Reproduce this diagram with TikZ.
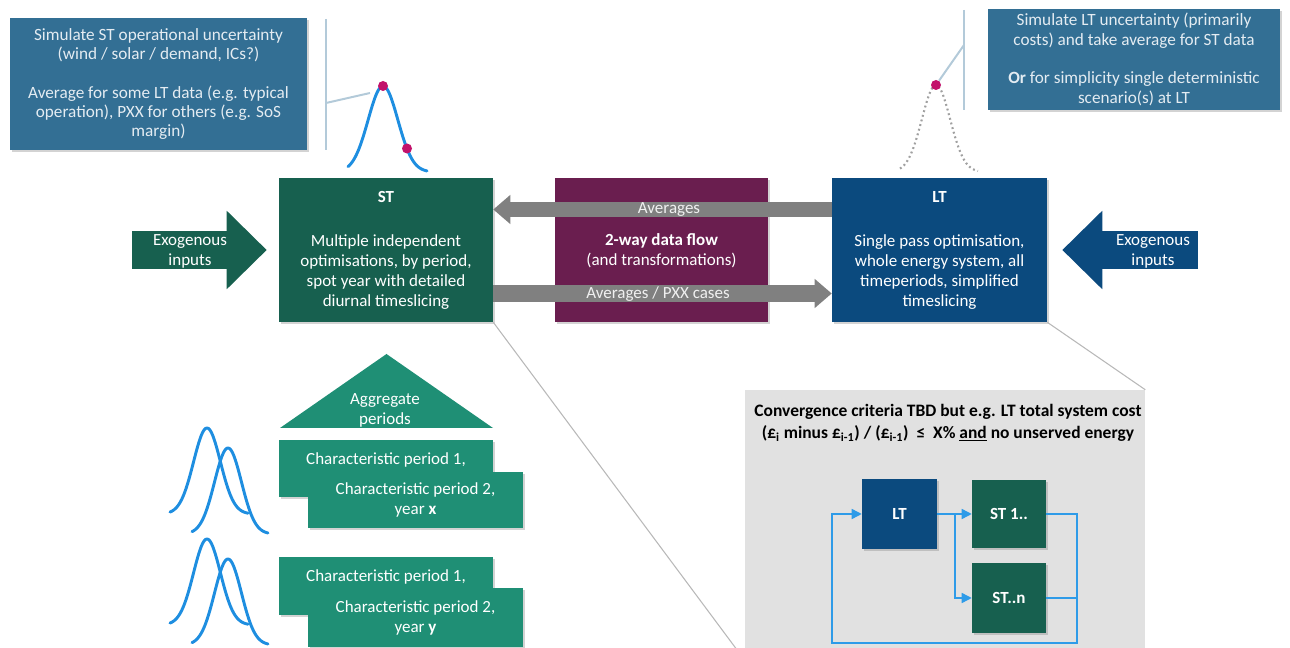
\documentclass[tikz,border=0pt]{standalone}
\usepackage{fontspec}
\setmainfont{Carlito}
\usetikzlibrary{arrows.meta,shadows}
\definecolor{stgreen}{HTML}{17604F}
\definecolor{tealbox}{HTML}{1F8F75}
\definecolor{ltblue}{HTML}{0B4A7E}
\definecolor{purp}{HTML}{6A1E4F}
\definecolor{callout}{HTML}{336F94}
\definecolor{calltext}{HTML}{E4ECF2}
\definecolor{vlinec}{HTML}{B3CAD9}
\definecolor{arrgrey}{HTML}{808080}
\definecolor{panelgrey}{HTML}{E1E1E1}
\definecolor{bellc}{HTML}{1E8EE0}
\definecolor{dotmag}{HTML}{C2126B}
\definecolor{loopblue}{HTML}{2E9BE8}
\definecolor{zoomc}{HTML}{B8B8B8}
\definecolor{dotgrey}{HTML}{A0A0A0}
\newcommand\msz{\fontsize{12.75}{15}\selectfont}
\newcommand\csz{\fontsize{12.9}{14.5}\selectfont}
\begin{document}
\begin{tikzpicture}[x=0.75pt,y=-0.75pt,
  sz/.style 2 args={minimum width={#1*0.75pt},minimum height={#2*0.75pt}},
  blk/.style={rectangle,inner sep=0pt,align=center,text=white,font=\msz,
    drop shadow={opacity=0.35,shadow xshift=1.8pt,shadow yshift=-1.8pt}},
  callbox/.style={blk,fill=callout,text=calltext,font=\csz},
  txt/.style={inner sep=0pt,align=center,font=\msz,text=white},
  exo/.style={line width=29pt,-{Triangle[length=30pt,width=57pt]}},
  garrow/.style={draw=arrgrey,-{Triangle[length=12.75pt,width=21pt]}},
  bellst/.style={draw=bellc,line width=2.2pt,line cap=round},
  vln/.style={draw=vlinec,line width=1.8pt},
  mdot/.style={circle,fill=dotmag,inner sep=0pt,minimum size=7.5pt},
  lp/.style={draw=loopblue,line width=1.1pt},
  lparrow/.style={lp,-{Triangle[length=7.5pt,width=7.5pt]}},
  zoomline/.style={draw=zoomc,line width=0.8pt}]
\useasboundingbox (0,0) rectangle (1290,648);

% ---------- main boxes ----------
\node[blk,fill=purp,sz={213}{144}] (mid) at (661.5,250) {};
\node[txt] (midtxt) at (661.5,251) {\textbf{2-way data flow}\\(and transformations)};

\node[blk,fill=stgreen,sz={214}{144}] (ST) at (386,250)
  {\textbf{ST}\\[18pt]Multiple independent\\optimisations, by period,\\spot year with detailed\\diurnal timeslicing};
\node[blk,fill=ltblue,sz={215}{144}] (LT) at (939.5,250)
  {\textbf{LT}\\[18pt]Single pass optimisation,\\whole energy system, all\\timeperiods, simplified\\timeslicing};

% ---------- grey data-flow arrows ----------
\coordinate (avgT) at (0,209.5);
\coordinate (avgB) at (0,293.5);
\draw[garrow,line width=11.25pt] (LT.west |- avgT) -- (ST.east |- avgT);
\draw[garrow,line width=12.75pt] (ST.east |- avgB) -- (LT.west |- avgB);
\node[txt,text=white!94!black] (lavg) at (669,210) {Averages};
\node[txt,text=white!94!black] (lpxx) at (658,294) {Averages / PXX cases};

% ---------- exogenous inputs ----------
\coordinate (exoL) at (132,250);
\coordinate (exoR) at (1198,250);
\draw[exo,stgreen] (exoL) -- ([xshift=-9pt]ST.west);
\draw[exo,ltblue] (exoR) -- ([xshift=11.25pt]LT.east);
\node[txt] (exoLt) at (190,251) {Exogenous\\inputs};
\node[txt] (exoRt) at (1153,251) {Exogenous\\inputs};

% ---------- zoom lines and panel ----------
\node[rectangle,fill=panelgrey,inner sep=0pt,sz={400}{270}] (pnl) at (945,525) {};
\draw[zoomline] (ST.south east) -- (pnl.south west);
\draw[zoomline] (LT.south east) -- (pnl.north east);
\node[inner sep=0pt,align=center,font=\fontsize{13.1}{16.5}\selectfont\bfseries] (crit) at (948,423)
  {Convergence criteria TBD but e.g. LT total system cost\\
   (£\textsubscript{i} minus £\textsubscript{i-1}) / (£\textsubscript{i-1})\ \ ≤\ \ X\% \underline{and} no unserved energy};

\node[blk,fill=ltblue,font=\msz\bfseries,sz={75}{70}] (iLT) at (899.5,514) {LT};
\node[blk,fill=stgreen,font=\msz\bfseries,sz={74}{68}] (iST1) at (1009,514) {ST 1..};
\node[blk,fill=stgreen,font=\msz\bfseries,sz={74}{70}] (iSTn) at (1009,598) {ST..n};
\coordinate (br) at (955,514);
\coordinate (rr) at (1077,643);
\coordinate (ll) at (832,643);
\draw[lparrow] (iLT.east) -- (iST1.west);
\draw[lparrow] (br) |- (iSTn.west);
\draw[lparrow] (iST1.east) -| (rr) -- (ll) |- (iLT.west);
\draw[lp] (iSTn.east) -- (iSTn.east -| rr);

% ---------- callouts ----------
\node[callbox,sz={297}{132}] (cTL) at (158.5,84)
  {Simulate ST operational uncertainty\\(wind / solar / demand, ICs?)\\[14.5pt]Average for some LT data (e.g. typical\\operation), PXX for others (e.g. SoS\\margin)};
\node[callbox,sz={292}{101}] (cTR) at (1134,59.5)
  {Simulate LT uncertainty (primarily\\costs) and take average for ST data\\[14.5pt]\textbf{Or} for simplicity single deterministic\\scenario(s) at LT};

\coordinate (vL1) at (326,19);
\coordinate (vL2) at (326,150);
\coordinate (vLm) at (326,103);
\coordinate (cL) at (370,93);
\draw[vln] (vL1) -- (vL2);
\draw[vlinec,line width=1.5pt] (vLm) -- (cL);
\coordinate (vR1) at (964,10);
\coordinate (vR2) at (964,110);
\coordinate (vRm) at (964,45);
\draw[vln] (vR1) -- (vR2);

% bell curves top
\draw[bellst] plot[domain=348:427,samples=80,variable=\t] (\t,{172-86*exp(-((\t-383)/21)^2)});
\node[mdot] (d1) at (383,86) {};
\node[mdot] (d2) at (407,148.5) {};
\draw[dotgrey,line width=1.6pt,dash pattern=on 1.4pt off 2.2pt]
  plot[domain=900:978,samples=80,variable=\t] (\t,{172-87*exp(-((\t-936)/20)^2)});
\node[mdot] (d3) at (936,85) {};
\draw[vlinec,line width=1.5pt] (vRm) -- (d3);

% ---------- bottom-left ----------
\fill[tealbox] (280,428) -- (386.5,354) -- (493,428) -- cycle;
\node[txt] (agg) at (385,410) {Aggregate\\periods};

\node[blk,fill=tealbox,sz={214}{57}] (c1a) at (386,468.5) {};
\node[txt] (c1at) at (386,460) {Characteristic period 1,};
\node[blk,fill=tealbox,sz={215}{56}] (c1b) at (415.5,500) {Characteristic period 2,\\year \textbf{x}};
\node[blk,fill=tealbox,sz={214}{58}] (c2a) at (386,586) {};
\node[txt] (c2at) at (386,577) {Characteristic period 1,};
\node[blk,fill=tealbox,sz={215}{59}] (c2b) at (415.5,617.5) {Characteristic period 2,\\year \textbf{y}};

\foreach \dy in {0,111}{
  \draw[bellst] plot[domain=170:248,samples=80,variable=\t] (\t,{514+\dy-86*exp(-((\t-207)/19)^2)});
  \draw[bellst] plot[domain=192:268,samples=80,variable=\t] (\t,{534+\dy-86*exp(-((\t-228)/19)^2)});
}
\end{tikzpicture}
\end{document}
